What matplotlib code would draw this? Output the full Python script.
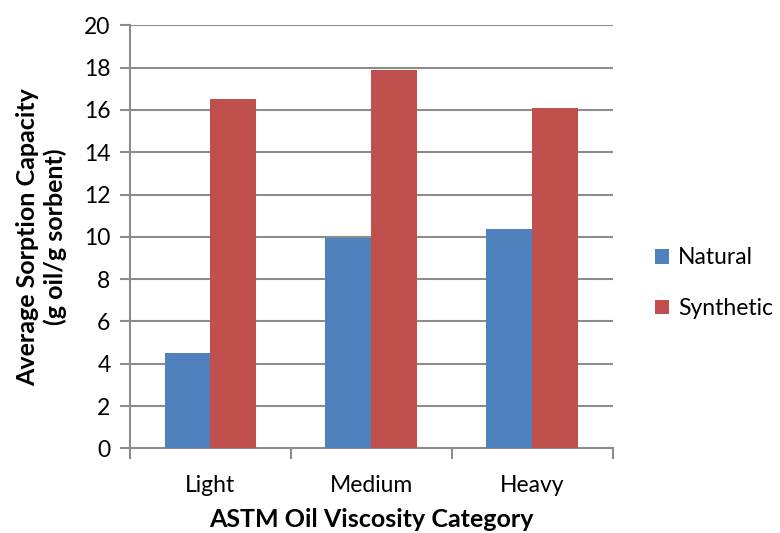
import numpy as np
import matplotlib
matplotlib.use('Agg')
import matplotlib.pyplot as plt

# sorption capacity by oil viscosity category
categories = ['Light', 'Medium', 'Heavy']
natural = [4.5, 9.95, 10.35]
synthetic = [16.5, 17.9, 16.1]

blue = '#4f81bd'
red = '#c0504d'
grid_color = '#8c8c8c'

plt.rcParams['font.family'] = ['Lato', 'DejaVu Sans']

fig = plt.figure(figsize=(7.8, 5.33), dpi=100)
ax = fig.add_axes([0.1667, 0.1589, 0.6188, 0.7936])

x = np.arange(len(categories))
width = 1 / 3.5
ax.bar(x - width / 2, natural, width, color=blue, label='Natural', zorder=3)
ax.bar(x + width / 2, synthetic, width, color=red, label='Synthetic', zorder=3)

ax.set_xlim(-0.5, len(categories) - 0.5)
ax.set_ylim(0, 20)
ax.set_yticks(np.arange(0, 21, 2))
ax.yaxis.grid(True, color=grid_color, linewidth=1.5, zorder=0)

# labels centred on groups, tick marks on group boundaries
ax.set_xticks(x)
ax.set_xticklabels(categories)
ax.set_xticks(np.arange(-0.5, len(categories), 1), minor=True)
ax.tick_params(axis='x', which='major', length=0, pad=19, labelsize=16.5)
ax.tick_params(axis='x', which='minor', length=8, width=1.5, color=grid_color)
ax.tick_params(axis='y', length=7, width=1.5, color=grid_color, pad=7, labelsize=16.5)

for side in ['top', 'right']:
    ax.spines[side].set_visible(False)
for side in ['left', 'bottom']:
    ax.spines[side].set_color(grid_color)
    ax.spines[side].set_linewidth(1.5)

ax.set_xlabel('ASTM Oil Viscosity Category', fontsize=18, fontweight='bold', labelpad=9)
ax.set_ylabel('Average Sorption Capacity\n(g oil/g sorbent)', fontsize=18,
              fontweight='bold', labelpad=12, linespacing=1.25)

ax.legend(loc='center left', bbox_to_anchor=(1.045, 0.39), frameon=False,
          fontsize=16.5, handlelength=0.6, handleheight=0.6, handletextpad=0.4,
          labelspacing=1.3)

fig.savefig('out.png', dpi=100)
